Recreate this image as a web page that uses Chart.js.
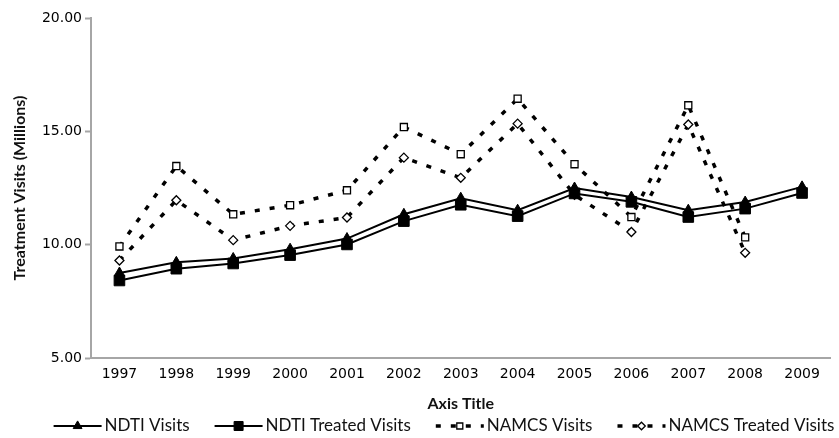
<!DOCTYPE html>
<html>
<head>
<meta charset="utf-8">
<script src="https://cdn.jsdelivr.net/npm/chart.js@4"></script>
<style>
  html, body { margin: 0; padding: 0; background: #fff; }
</style>
</head>
<body>
<canvas id="chart" width="839" height="438"></canvas>
<script>
const years = ['1997', '1998', '1999', '2000', '2001', '2002', '2003', '2004', '2005', '2006', '2007', '2008', '2009'];
const ndtiVisits = [8.75, 9.22, 9.39, 9.8, 10.27, 11.34, 12.05, 11.52, 12.5, 12.1, 11.52, 11.88, 12.55];
const ndtiTreated = [8.42, 8.94, 9.17, 9.54, 10.01, 11.04, 11.76, 11.26, 12.26, 11.89, 11.22, 11.59, 12.28];
const namcsVisits = [9.92, 13.47, 11.34, 11.74, 12.4, 15.19, 13.99, 16.44, 13.55, 11.22, 16.15, 10.32, null];
const namcsTreated = [9.3, 11.96, 10.2, 10.83, 11.2, 13.84, 12.95, 15.34, 12.2, 10.56, 15.3, 9.64, null];
const yTicks = [5, 10, 15, 20];

// legend drawn under the axis title: line + marker, then the label
const bottomLegend = {
  id: 'bottomLegend',
  afterDraw(chart) {
    const ctx = chart.ctx;
    const y = 426;
    const symW = 48, textGap = 3, itemGap = 25;
    ctx.save();
    ctx.font = '17px Lato';
    const items = chart.data.datasets.map(ds => ({ ds, w: symW + textGap + ctx.measureText(ds.label).width }));
    const total = items.reduce((s, it) => s + it.w, 0) + itemGap * (items.length - 1);
    let x = 444 - total / 2;
    items.forEach(({ ds, w }) => {
      ctx.strokeStyle = ds.borderColor;
      ctx.lineWidth = ds.borderWidth;
      ctx.setLineDash(ds.borderDash || []);
      ctx.beginPath();
      ctx.moveTo(x, y);
      ctx.lineTo(x + symW, y);
      ctx.stroke();
      ctx.setLineDash([]);
      ctx.fillStyle = ds.pointBackgroundColor;
      ctx.strokeStyle = ds.pointBorderColor;
      ctx.lineWidth = ds.pointBorderWidth;
      Chart.helpers.drawPoint(ctx, {
        pointStyle: ds.pointStyle,
        radius: ds.pointRadius * 0.85,
        borderWidth: ds.pointBorderWidth,
        rotation: 0
      }, x + symW / 2, y);
      ctx.fillStyle = '#111';
      ctx.textBaseline = 'middle';
      ctx.textAlign = 'left';
      ctx.fillText(ds.label, x + symW + textGap, y);
      x += w + itemGap;
    });
    ctx.restore();
  }
};

const solid = (label, data, style, r) => ({
  label, data,
  borderColor: '#000', borderWidth: 2,
  pointStyle: style, pointRadius: r, pointHoverRadius: r,
  pointBackgroundColor: '#000', pointBorderColor: '#000', pointBorderWidth: 1,
  tension: 0
});
const dashed = (label, data, style, r) => ({
  label, data,
  borderColor: '#000', borderWidth: 3.5, borderDash: [5, 10],
  pointStyle: style, pointRadius: r, pointHoverRadius: r,
  pointBackgroundColor: '#fff', pointBorderColor: '#000', pointBorderWidth: 1.3,
  tension: 0, spanGaps: false
});

new Chart(document.getElementById('chart'), {
  type: 'line',
  data: {
    labels: years,
    datasets: [
      solid('NDTI Visits', ndtiVisits, 'triangle', 6),
      solid('NDTI Treated Visits', ndtiTreated, 'rect', 7.5),
      dashed('NAMCS Visits', namcsVisits, 'rect', 5),
      dashed('NAMCS Treated Visits', namcsTreated, 'rectRot', 4.5)
    ]
  },
  plugins: [bottomLegend],
  options: {
    responsive: false,
    animation: false,
    devicePixelRatio: 1,
    layout: { padding: { top: 18, right: 0, bottom: 22, left: 0 } },
    plugins: { legend: { display: false }, tooltip: { enabled: false } },
    scales: {
      x: {
        offset: true,
        grid: { display: true, drawOnChartArea: false, drawTicks: false },
        border: { display: true, color: '#a6a6a6', width: 2 },
        ticks: { padding: 8, color: '#000', font: { family: 'DejaVu Sans', size: 14 } },
        title: {
          display: true, text: 'Axis Title', color: '#111',
          font: { family: 'Lato', size: 16, weight: 'bold' },
          padding: { top: 4, bottom: 3 }
        },
        afterFit: s => { s.height = 58; }
      },
      y: {
        min: 5, max: 20,
        afterBuildTicks: s => { s.ticks = yTicks.map(v => ({ value: v })); },
        grid: { display: true, drawOnChartArea: false, drawTicks: true, tickLength: 6, color: '#a6a6a6', tickWidth: 2 },
        border: { display: true, color: '#a6a6a6', width: 2 },
        ticks: { padding: 3, color: '#000', font: { family: 'DejaVu Sans', size: 14 }, callback: v => Number(v).toFixed(2) },
        title: {
          display: true, text: 'Treatment Visits (Millions)', color: '#111',
          font: { family: 'Lato', size: 16, weight: 'bold' },
          padding: { top: 10, bottom: 0 }
        },
        afterFit: s => { s.width = 91; }
      }
    }
  }
});
</script>
</body>
</html>
